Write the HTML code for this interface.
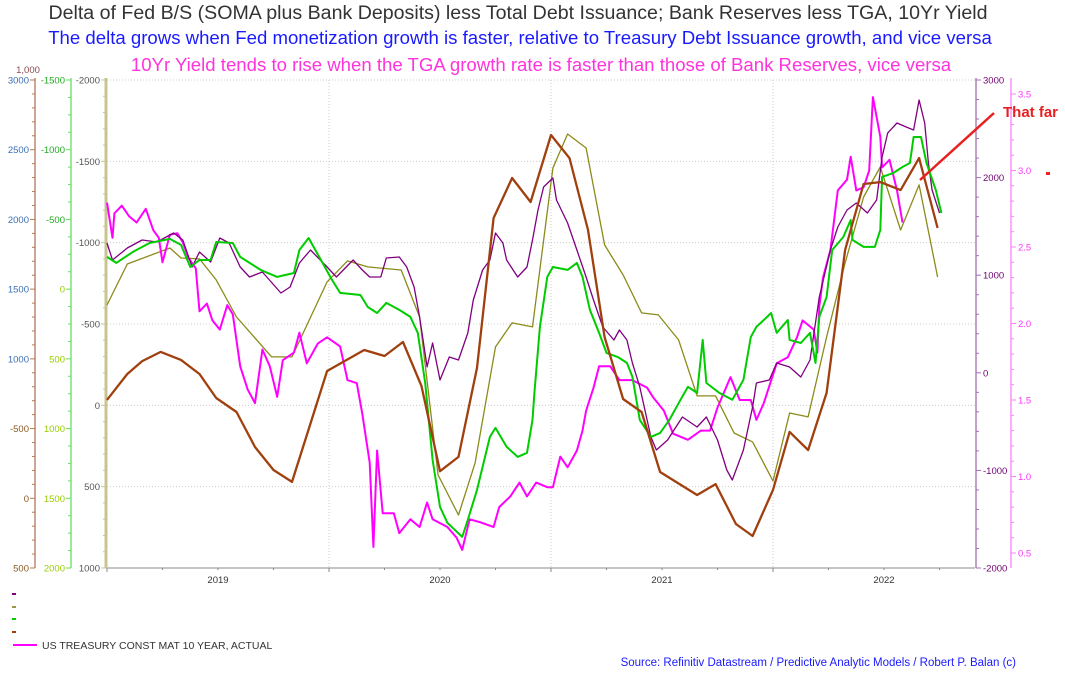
<!DOCTYPE html>
<html><head><meta charset="utf-8">
<style>
html,body{margin:0;padding:0;background:#fff;overflow:hidden;}
svg{display:block;font-family:"Liberation Sans",Arial,sans-serif;}
</style></head>
<body>
<svg id="chart" width="1065" height="673" viewBox="0 0 1065 673">
  <text x="518" y="19" font-size="19.6" fill="#333" text-anchor="middle">Delta of Fed B/S (SOMA plus Bank Deposits) less Total Debt Issuance; Bank Reserves less TGA, 10Yr Yield</text>
  <text x="520" y="44" font-size="18.6" fill="#1a1aff" text-anchor="middle">The delta grows when Fed monetization growth is faster, relative to Treasury Debt Issuance growth, and vice versa</text>
  <text x="541" y="71" font-size="18.6" fill="#ff33dd" text-anchor="middle">10Yr Yield tends to rise when the TGA growth rate is faster than those of Bank Reserves, vice versa</text>
  <g id="grid"></g>
  <g id="axes"></g>
  <g id="series"></g>
  <g>
    <line x1="994" y1="113" x2="920" y2="180" stroke="#e82020" stroke-width="2.5"/>
    <text x="1003" y="117" font-size="15" font-weight="bold" fill="#e82020">That far</text>
    <rect x="1046" y="172" width="4" height="3" fill="#e82020"/>
  </g>
  <g>
    <rect x="12" y="593" width="4" height="2" fill="#800080"/>
    <rect x="12" y="606" width="4" height="2" fill="#999944"/>
    <rect x="12" y="618" width="4" height="2" fill="#00cc00"/>
    <rect x="12" y="631" width="4" height="2" fill="#a0400f"/>
    <line x1="13" y1="645" x2="37" y2="645" stroke="#ff00ff" stroke-width="2"/>
    <text x="42" y="649" font-size="10.5" fill="#333">US TREASURY CONST MAT 10 YEAR, ACTUAL</text>
  </g>
  <text x="1016" y="666" font-size="11.5" fill="#1a1aff" text-anchor="end">Source: Refinitiv Datastream / Predictive Analytic Models / Robert P. Balan (c)</text>
</svg>
<script>
// months since Jan 2019 and values, per series
const brownMonths=[0,1.1,1.9,2.9,4.0,5.0,5.9,7.0,8.0,9.0,10.0,11.9,13.9,15.0,16.0,17.0,18.0,19.0,20.0,20.9,21.9,22.9,24.0,25.0,26.0,26.9,27.9,28.9,29.9,31.9,32.9,34.0,34.9,36.0,36.9,37.9,38.9,39.9,40.9,41.8,42.9,43.9,44.9];
const brownValues=[1361,1494,1560,1607,1566,1494,1371,1299,1120,1002,941,1509,1617,1586,1658,1432,996,1069,1525,2293,2498,2375,2718,2600,2232,1683,1366,1299,992,874,930,725,664,900,1197,1104,1397,2129,2467,2477,2436,2600,2242];
const oliveMonths=[0,1.1,3.4,4.0,5.0,5.9,7.0,8.9,10.0,11.9,13.0,14.1,15.9,16.9,17.9,19.0,19.9,21.0,21.9,23.0,24.1,24.9,25.9,26.9,27.9,28.9,29.8,30.9,31.9,32.9,33.9,34.9,36.0,36.9,37.9,38.9,39.9,40.9,41.8,42.9,43.9,44.9];
const oliveValues=[-617,-869,-967,-906,-900,-771,-543,-298,-298,-759,-888,-851,-832,-543,428,674,354,-359,-507,-482,-1459,-1668,-1582,-986,-802,-568,-556,-402,-58,-58,170,225,465,47,71,-420,-875,-1281,-1465,-1078,-1355,-789];
const greenMonths=[0,0.5,1.4,2.3,3.4,4.0,4.5,5.0,5.6,5.9,6.8,7.2,8.3,9.2,10.1,10.4,10.9,11.5,12.1,12.6,13.7,14.1,14.6,15.1,15.8,16.4,16.8,17.2,17.6,18.0,18.4,19.2,19.5,20.0,20.7,21.0,21.6,22.2,22.7,23.0,23.1,23.4,23.8,24.1,24.9,25.4,25.7,26.1,26.6,27.0,27.6,28.1,28.4,28.8,29.4,29.9,30.4,31.0,31.4,31.9,32.2,32.4,33.1,33.8,34.4,34.8,35.1,35.5,35.9,36.2,36.8,36.9,37.5,38.0,38.3,38.5,38.9,39.2,39.8,40.2,40.3,40.9,41.5,41.8,41.9,42.5,43.0,43.4,43.6,44.0,44.3,44.8,45.1];
const greenValues=[-231,-188,-267,-331,-360,-317,-159,-209,-209,-338,-331,-231,-138,-88,-116,-281,-367,-224,-80,27,42,128,171,99,149,199,314,673,1225,1562,1676,1777,1655,1440,1060,995,1131,1203,1174,938,744,271,-88,-159,-138,-188,-88,149,314,457,486,529,629,938,1060,1031,938,794,701,744,364,673,744,794,651,343,271,221,171,314,221,364,386,314,529,199,56,-281,-374,-496,-353,-303,-303,-424,-805,-833,-876,-905,-1091,-1091,-905,-711,-546];
const purpleMonths=[0,0.3,1.1,1.9,2.7,3.6,4.1,4.6,5.0,5.6,6.1,6.6,7.2,7.7,8.4,9.4,9.9,10.4,11.0,11.9,12.4,13.3,13.8,14.2,14.8,15.1,15.8,16.2,16.6,16.9,17.3,17.6,18.0,18.5,19.0,19.5,19.8,20.3,20.7,21.0,21.4,21.6,22.2,22.7,23.0,23.3,23.6,24.1,24.3,24.9,25.4,25.9,26.3,26.8,27.4,27.7,28.1,28.4,28.8,29.4,29.7,30.3,31.1,31.9,32.4,33.0,33.5,33.8,34.4,34.9,35.1,35.8,36.2,36.9,37.5,38.0,38.5,39.1,39.5,40.0,40.5,41.1,41.6,41.9,42.2,42.7,43.2,43.6,43.9,44.2,44.4,44.6,45.0];
const purpleValues=[1330,1156,1279,1361,1340,1432,1361,1084,1238,1135,1381,1330,1084,982,1033,818,879,1125,1258,1084,982,1156,1053,982,982,1176,1186,1084,879,572,60,305,-74,162,131,408,746,1053,1156,1432,1330,1156,982,1084,1361,1668,1904,1996,1770,1535,1258,982,746,469,336,439,336,100,-146,-658,-791,-689,-453,-555,-453,-689,-996,-1098,-791,-350,-104,-74,100,59,-43,131,777,1258,1494,1668,1740,1637,1770,2211,2457,2559,2518,2488,2795,2559,2150,1873,1637];
const yieldMonths=[0,0.3,0.4,0.8,1.2,1.6,2.1,2.5,2.8,3.0,3.4,3.8,4.1,4.4,4.8,5.0,5.4,5.7,6.1,6.5,6.8,7.2,7.6,8.0,8.4,8.8,9.2,9.5,10.1,10.4,10.8,11.4,11.9,12.6,13.0,13.5,13.8,14.2,14.4,14.6,14.9,15.5,15.8,16.4,16.9,17.3,17.6,18.4,18.9,19.2,19.6,20.2,20.9,21.2,21.8,22.3,22.7,23.2,23.8,24.1,24.5,24.9,25.4,25.7,25.9,26.3,26.6,27.2,27.7,28.4,29.2,29.5,30.1,30.6,31.4,32.1,32.6,33.0,33.7,34.2,34.8,35.1,35.5,36.2,36.8,37.3,37.6,38.2,38.4,38.5,38.7,39.1,39.5,40.0,40.2,40.5,40.9,41.2,41.4,41.8,41.9,42.3,42.7,43.0];
const yieldValues=[2.79,2.56,2.72,2.77,2.70,2.66,2.75,2.61,2.56,2.40,2.58,2.59,2.53,2.43,2.36,2.08,2.13,2.02,1.96,2.12,2.06,1.72,1.57,1.48,1.83,1.72,1.52,1.76,1.81,1.94,1.74,1.87,1.91,1.85,1.63,1.61,1.41,1.09,0.54,1.17,0.76,0.76,0.63,0.72,0.67,0.83,0.72,0.67,0.60,0.52,0.72,0.70,0.67,0.80,0.87,0.96,0.87,0.96,0.93,0.93,1.13,1.06,1.17,1.30,1.43,1.58,1.72,1.72,1.63,1.63,1.58,1.52,1.43,1.28,1.24,1.30,1.30,1.45,1.65,1.50,1.50,1.37,1.48,1.74,1.78,1.91,2.02,1.96,1.81,2.11,2.30,2.48,2.87,2.94,3.09,2.87,2.89,3.00,3.48,3.22,3.02,3.07,2.87,2.66];
const yearLabels=["2019","2020","2021","2022"];
const brownTicks=["3000","2500","2000","1500","1000","-500","0","500"];
const greenTicks=[-1500,-1000,-500,0,500,1000,1500,2000];
const oliveTicks=[-2000,-1500,-1000,-500,0,500,1000];
const purpleTicks=[3000,2000,1000,0,-1000,-2000];
const yieldTicks=[3.5,3.0,2.5,2.0,1.5,1.0,0.5];

const NS="http://www.w3.org/2000/svg";
const TOP=80,BOT=568,X0=107,X1=975,MONTH=18.5;
const xS=m=>X0+m*MONTH;
const yBrown=v=>TOP+(3000-v)*(BOT-TOP)/2500;
const yGreen=v=>TOP+(v+1500)*(BOT-TOP)/3500;
const yOlive=v=>TOP+(v+2000)*(BOT-TOP)/3000;
const yPurple=v=>TOP+(3000-v)*(BOT-TOP)/5000;
const yYield=v=>94+(3.5-v)*153;
function mk(tag,attrs,parent){const e=document.createElementNS(NS,tag);for(const k in attrs)e.setAttribute(k,attrs[k]);parent.appendChild(e);return e;}
const grid=document.getElementById('grid'),axes=document.getElementById('axes'),series=document.getElementById('series');

for(let i=0;i<6;i++){const y=TOP+i*(BOT-TOP)/6;
  const l=mk('line',{x1:X0,x2:X1,y1:y,y2:y,stroke:'#ccc','stroke-dasharray':'1,2','stroke-width':1},grid);
  
  }
for(let i=0;i<4;i++){
  if(i>0){const x=xS(i*12);
    const l=mk('line',{x1:x,x2:x,y1:TOP,y2:BOT,stroke:'#ccc','stroke-dasharray':'1,2'},grid);
    
    }
  const t=mk('text',{x:xS(i*12+6),y:583,'font-size':9.5,fill:'#333','text-anchor':'middle'},axes);
  t.textContent=yearLabels[i];
  
  
}
const xa=mk('line',{x1:X0,x2:X1,y1:BOT,y2:BOT,stroke:'#888'},axes);


for(let q=0;q<=15;q++){const x=xS(q*3);if(x>X1)break;mk('line',{x1:x,x2:x,y1:BOT,y2:BOT+(q%4==0?4:2),stroke:'#888'},axes);}

function vAxis(x,labels,posFn,color,lblColorFn,minor,name,side,w){
  const a=mk('line',{x1:x,x2:x,y1:TOP-2,y2:BOT,stroke:color,'stroke-width':w||1.3},axes);
  
  
  const n=labels.length;
  for(let i=0;i<n-1;i++){const y0=posFn(i),y1=posFn(i+1);
    for(let k=1;k<minor;k++){const y=y0+(y1-y0)*k/minor;mk('line',{x1:x,x2:x+(side>0?3:-3),y1:y,y2:y,stroke:color},axes);}}
  labels.forEach((v,i)=>{const y=posFn(i);
    mk('line',{x1:x,x2:x+(side>0?5:-5),y1:y,y2:y,stroke:color},axes);
    const t=mk('text',{x:x+(side>0?7:-6),y:y+3.5,'font-size':9.5,fill:lblColorFn(i),'text-anchor':side>0?'start':'end'},axes);
    t.textContent=String(v);
    
    });
}
vAxis(35,brownTicks,i=>TOP+i*(BOT-TOP)/7,'#b07a5a',i=>i<5?'#3a6fb0':'#8a5a20',5,'brown-axis',-1);
const thou=mk('text',{x:28,y:73,'font-size':9.5,fill:'#8a4a50','text-anchor':'middle'},axes);
thou.textContent='1,000';


vAxis(71,greenTicks,i=>yGreen(greenTicks[i]),'#66dd66',i=>i<3?'#22aa22':'#99cc00',4,'green-axis',-1);
vAxis(106,oliveTicks,i=>yOlive(oliveTicks[i]),'#c8c490',i=>'#555',5,'olive-axis',-1,3);
vAxis(976,purpleTicks,i=>yPurple(purpleTicks[i]),'#a070b0',i=>'#700070',5,'purple-axis',1);
vAxis(1011,yieldTicks.map(v=>v.toFixed(1)),i=>yYield(yieldTicks[i]),'#ff80ff',i=>'#ff33ff',5,'yield-axis',1);

function line(ms,vs,scale,color,w,name){
  const d=ms.map((m,i)=>(i?'L':'M')+xS(m).toFixed(1)+','+scale(vs[i]).toFixed(1)).join(' ');
  const p=mk('path',{d:d,fill:'none',stroke:color,'stroke-width':w,'stroke-linejoin':'round'},series);
  
  
}
line(oliveMonths,oliveValues,yOlive,'#8b8b1a',1.3,'olive-series');
line(yieldMonths,yieldValues,yYield,'#ff00ff',2,'yield-series');
line(purpleMonths,purpleValues,yPurple,'#800080',1.3,'purple-series');
line(greenMonths,greenValues,yGreen,'#00cc00',2,'green-series');
line(brownMonths,brownValues,yBrown,'#a0400f',2.3,'brown-series');
</script>
</body></html>
